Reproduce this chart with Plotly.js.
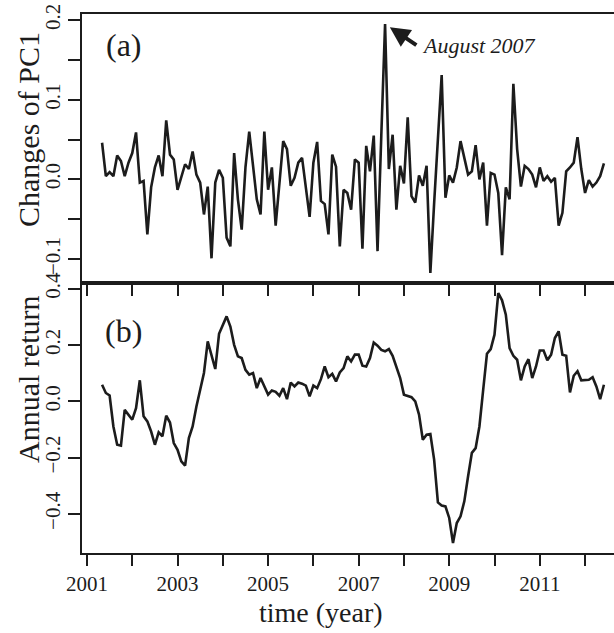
<!DOCTYPE html>
<html>
<head>
<meta charset="utf-8">
<script src="https://cdn.plot.ly/plotly-3.0.1.min.js"></script>
<style>
html, body { margin: 0; padding: 0; overflow: hidden; background: #fff; }
#chart { width: 660px; height: 633px; }
</style>
</head>
<body>
<div id="chart"></div>
<script>
// Monthly series, starting May 2001
const startYear = 2001;
const startMonth = 5;

// Panel (a): changes of PC1
const pc1Changes = [
  0.046, 0.004, 0.009, 0.004, 0.030, 0.023, 0.004, 0.021, 0.033, 0.059,
  -0.004, -0.002, -0.069, -0.010, 0.015, 0.030, 0.004, 0.074, 0.031, 0.025,
  -0.013, 0.004, 0.019, 0.013, 0.035, 0.006, -0.004, -0.044, -0.009, -0.099,
  -0.004, 0.012, 0.002, -0.073, -0.084, 0.033, -0.025, -0.063, 0.015, 0.060,
  0.017, -0.025, -0.044, 0.060, -0.013, 0.015, -0.058, -0.005, 0.048, 0.038,
  -0.008, 0.002, 0.021, 0.027, -0.010, -0.047, 0.021, 0.047, -0.027, -0.031,
  -0.069, 0.031, 0.016, -0.084, -0.013, -0.017, -0.038, 0.025, 0.021, -0.087,
  0.042, 0.010, 0.055, -0.090, 0.055, 0.195, 0.013, 0.056, -0.038, 0.017,
  -0.005, 0.078, -0.021, -0.029, 0.005, -0.008, 0.017, -0.1175,
  -0.030, 0.055, 0.131, -0.023, 0.005, -0.004, 0.015, 0.048, 0.025, 0.006,
  0.010, 0.043, 0.000, 0.021, -0.058, 0.008, 0.006, -0.017, -0.095, -0.010,
  -0.025, 0.120, 0.038, -0.009, 0.017, 0.013, 0.006, -0.010, 0.015, -0.002,
  0.004, -0.003, 0.002, -0.058, -0.042, 0.010, 0.015, 0.021, 0.053, 0.013,
  -0.017, -0.001, -0.009, -0.004, 0.004, 0.020
];

// Panel (b): annual return
const annualReturn = [
  0.059, 0.030, 0.021, -0.089, -0.154, -0.157, -0.030, -0.047, -0.065, -0.024,
  0.075, -0.053, -0.071, -0.107, -0.154, -0.110, -0.124, -0.051, -0.075, -0.148,
  -0.172, -0.213, -0.228, -0.130, -0.089, -0.018, 0.041, 0.101, 0.213, 0.166,
  0.115, 0.240, 0.272, 0.302, 0.266, 0.201, 0.160, 0.154, 0.112, 0.095,
  0.101, 0.047, 0.083, 0.051, 0.024, 0.039, 0.034, 0.020, 0.047, 0.008,
  0.067, 0.053, 0.067, 0.063, 0.056, 0.018, 0.056, 0.047, 0.079, 0.124,
  0.086, 0.098, 0.071, 0.103, 0.118, 0.160, 0.142, 0.166, 0.166, 0.127,
  0.124, 0.154, 0.209, 0.198, 0.183, 0.178, 0.186, 0.162, 0.118, 0.083,
  0.024, 0.020, 0.015, 0.000, -0.047, -0.136, -0.118, -0.116,
  -0.207, -0.359, -0.370, -0.373, -0.414, -0.503, -0.432, -0.408, -0.355, -0.266,
  -0.183, -0.166, -0.089, 0.041, 0.169, 0.186, 0.237, 0.385, 0.359, 0.308,
  0.189, 0.162, 0.148, 0.075, 0.124, 0.150, 0.083, 0.124, 0.181, 0.181,
  0.146, 0.166, 0.225, 0.249, 0.166, 0.162, 0.032, 0.091, 0.107, 0.075,
  0.077, 0.077, 0.086, 0.053, 0.008, 0.059
];

const yearTicks = [2001, 2002, 2003, 2004, 2005, 2006, 2007, 2008, 2009, 2010, 2011, 2012];
const yearLabels = ['2001', '', '2003', '', '2005', '', '2007', '', '2009', '', '2011', ''];
const pc1Ticks = [-0.1, -0.05, 0, 0.05, 0.1, 0.15, 0.2];
const pc1Labels = ['\u22120.1', '', '0.0', '', '0.1', '', '0.2'];
const retTicks = [-0.4, -0.2, 0, 0.2, 0.4];
const retLabels = ['\u22120.4', '\u22120.2', '0.0', '0.2', '0.4'];

const times = pc1Changes.map((_, i) => startYear + (startMonth - 1) / 12 + i / 12);
const times2 = annualReturn.map((_, i) => startYear + (startMonth - 1) / 12 + i / 12);

const FONT = 'Liberation Serif, Times New Roman, serif';
const INK = '#1c1c1c';

const traces = [
  { x: times, y: pc1Changes, xaxis: 'x', yaxis: 'y', type: 'scatter', mode: 'lines',
    line: { color: INK, width: 2.6 }, hoverinfo: 'skip' },
  { x: times2, y: annualReturn, xaxis: 'x2', yaxis: 'y2', type: 'scatter', mode: 'lines',
    line: { color: INK, width: 2.6 }, hoverinfo: 'skip' }
];

const commonX = {
  range: [2000.89, 2012.86], tickmode: 'array', tickvals: yearTicks,
  ticks: 'outside', ticklen: 11, tickwidth: 2, tickcolor: INK,
  showline: true, mirror: true, linewidth: 2, linecolor: INK,
  showgrid: false, zeroline: false, fixedrange: true
};
const commonY = {
  tickmode: 'array', ticks: 'outside', ticklen: 12, tickwidth: 2, tickcolor: INK,
  tickangle: -90, showline: true, mirror: true, linewidth: 2, linecolor: INK,
  showgrid: false, zeroline: false, fixedrange: true,
  tickfont: { family: FONT, size: 21, color: INK }
};

const split = 0.5009;

const layout = {
  width: 660, height: 633,
  margin: { l: 82, r: 36, t: 14, b: 80 },
  paper_bgcolor: '#fff', plot_bgcolor: '#fff',
  showlegend: false,
  font: { family: FONT, color: INK },
  xaxis: Object.assign({}, commonX, { anchor: 'y', domain: [0, 1], ticktext: yearTicks.map(() => '') }),
  yaxis: Object.assign({}, commonY, { anchor: 'x', domain: [split, 1], range: [-0.13, 0.2075],
    tickvals: pc1Ticks, ticktext: pc1Labels }),
  xaxis2: Object.assign({}, commonX, { anchor: 'y2', domain: [0, 1], ticktext: yearLabels,
    tickfont: { family: FONT, size: 21, color: INK } }),
  yaxis2: Object.assign({}, commonY, { anchor: 'x2', domain: [0, split], range: [-0.5385, 0.4205],
    tickvals: retTicks, ticktext: retLabels }),
  annotations: [
    { xref: 'x', yref: 'y', x: 2001.82, y: 0.169, text: '(a)', showarrow: false,
      font: { family: FONT, size: 32, color: INK } },
    { xref: 'x2', yref: 'y2', x: 2001.80, y: 0.249, text: '(b)', showarrow: false,
      font: { family: FONT, size: 32, color: INK } },
    { xref: 'x', yref: 'y', x: 2007.689, y: 0.191, ax: 28, ay: 19, text: '',
      showarrow: true, arrowhead: 2, arrowsize: 1, arrowwidth: 4, arrowcolor: INK },
    { xref: 'x', yref: 'y', x: 2008.36, y: 0.1675, xanchor: 'left', yanchor: 'middle',
      text: '<i>August 2007</i>', showarrow: false,
      font: { family: FONT, size: 22, color: INK } },
    { xref: 'paper', yref: 'paper', x: 0, y: 0.7848, xshift: -53, xanchor: 'center', yanchor: 'middle',
      textangle: -90, text: 'Changes of PC1', showarrow: false,
      font: { family: FONT, size: 30, color: INK } },
    { xref: 'paper', yref: 'paper', x: 0, y: 0.321, xshift: -53, xanchor: 'center', yanchor: 'middle',
      textangle: -90, text: 'Annual return', showarrow: false,
      font: { family: FONT, size: 30, color: INK } },
    { xref: 'paper', yref: 'paper', x: 0, y: 0, xshift: 321 - 82, yshift: -59, xanchor: 'center', yanchor: 'middle',
      text: 'time (year)', showarrow: false,
      font: { family: FONT, size: 28, color: INK } }
  ]
};

Plotly.newPlot('chart', traces, layout, { staticPlot: true, displayModeBar: false });
</script>
</body>
</html>
